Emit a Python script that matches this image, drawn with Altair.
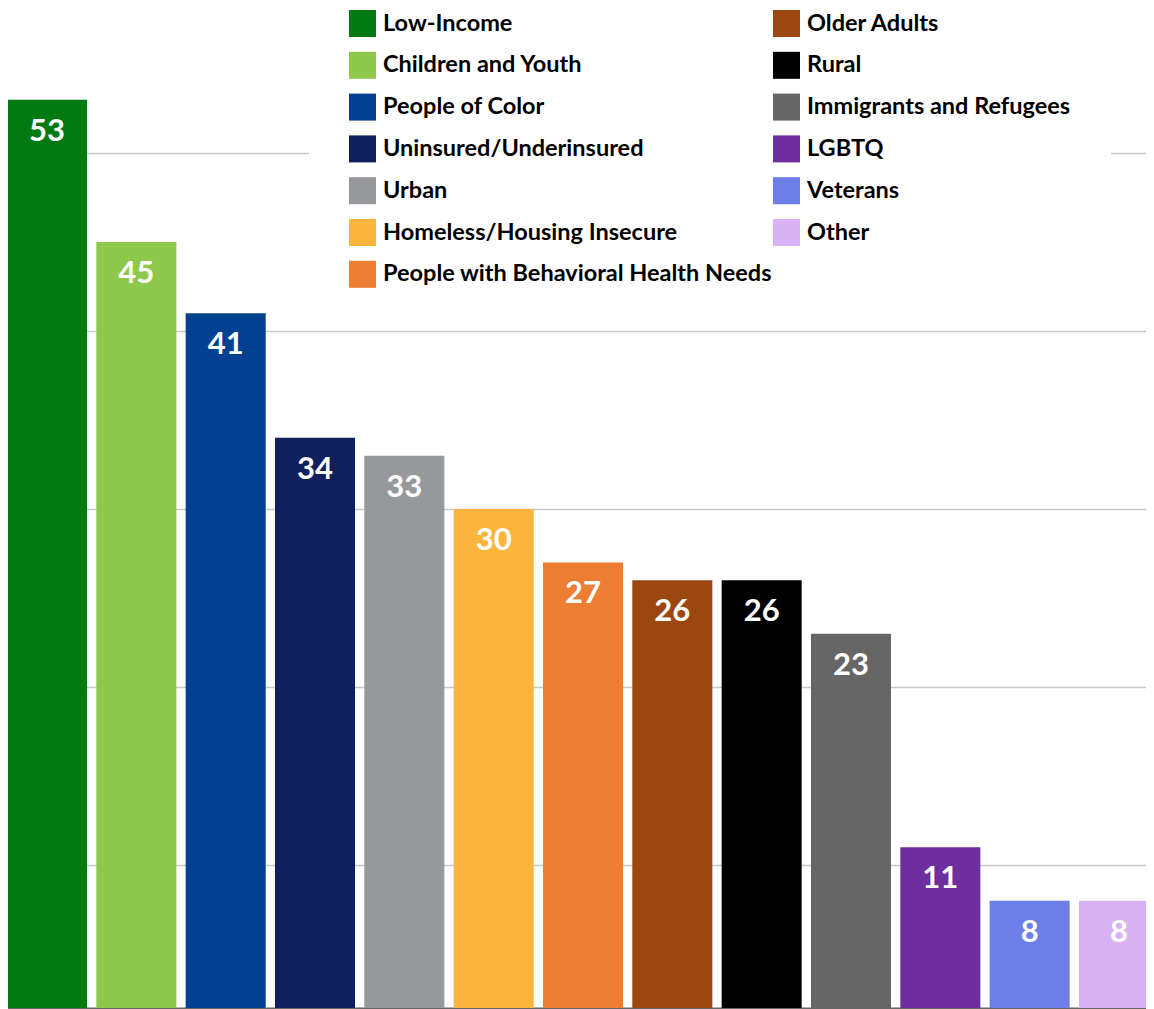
import altair as alt
import pandas as pd

categories = [
    "Low-Income", "Children and Youth", "People of Color", "Uninsured/Underinsured",
    "Urban", "Homeless/Housing Insecure", "People with Behavioral Health Needs",
    "Older Adults", "Rural", "Immigrants and Refugees", "LGBTQ", "Veterans", "Other",
]
values = [53, 45, 41, 34, 33, 30, 27, 26, 26, 23, 11, 8, 8]
colors = [
    "#037A11", "#8FC94B", "#03408F", "#10205F", "#97989B", "#FBB53C", "#EC7D33",
    "#9C4710", "#000000", "#666666", "#6E2F9E", "#6E7EE8", "#D9B2F5",
]
grid_values = [10, 20, 30, 40, 50]
y_domain = [1.97, 58.15]

df = pd.DataFrame({"group": categories, "count": values})

base = alt.Chart(df).encode(
    x=alt.X(
        "group:N",
        sort=categories,
        scale=alt.Scale(paddingInner=0.104, paddingOuter=0),
        axis=alt.Axis(labels=False, ticks=False, title=None, grid=False,
                      domainColor="#666666", domainWidth=2),
    )
)

bars = base.mark_bar(clip=True).encode(
    y=alt.Y(
        "count:Q",
        scale=alt.Scale(domain=y_domain, zero=False, nice=False),
        axis=alt.Axis(values=grid_values, grid=True, gridColor="#c8c8c8", gridWidth=1.3,
                      labels=False, ticks=False, domain=False, title=None),
    ),
    color=alt.Color(
        "group:N",
        scale=alt.Scale(domain=categories, range=colors),
        legend=alt.Legend(
            title=None, orient="none", legendX=302, legendY=-38, columns=2,
            symbolType="square", symbolSize=729, symbolStrokeWidth=0,
            labelFont="Lato", labelFontWeight="bold", labelFontSize=23.5,
            labelColor="black", labelLimit=700, labelOffset=7,
            rowPadding=14.8, columnPadding=0, padding=40, fillColor="white",
        ),
    ),
)

labels = base.mark_text(
    color="white", font="Lato", fontWeight="bold", fontSize=31,
    baseline="alphabetic", align="center", dy=41,
).encode(
    y=alt.Y("count:Q"),
    text=alt.Text("count:Q"),
)

chart = (
    alt.layer(bars, labels)
    .properties(
        width=1152, height=1000,
        padding={"left": -1, "top": 0, "right": -13, "bottom": 2},
        autosize=alt.AutoSizeParams(type="none"),
    )
    .configure_view(stroke=None)
)

chart.save("out.html", embed_options={"renderer": "svg", "actions": False})
